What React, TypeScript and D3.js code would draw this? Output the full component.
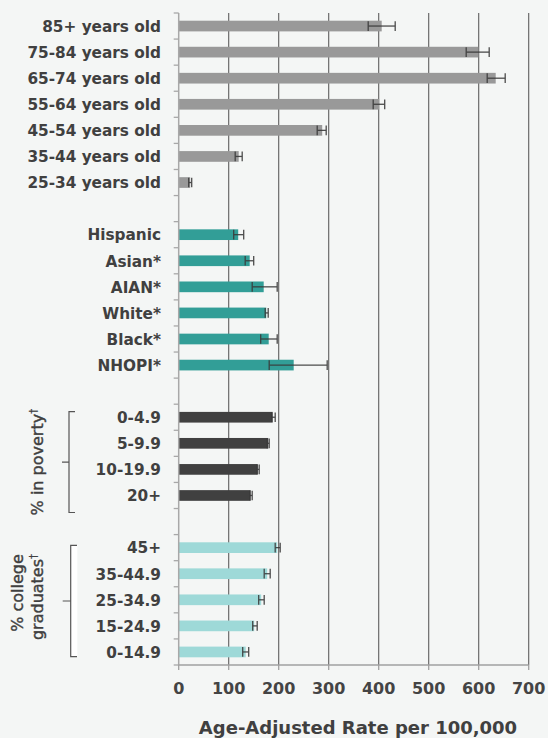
import React from "react";
import * as d3 from "d3";

const ageLabels = ["85+ years old", "75-84 years old", "65-74 years old", "55-64 years old", "45-54 years old", "35-44 years old", "25-34 years old"];
const ageRates = [406, 599, 634, 401, 287, 120, 23];
const ageLower = [379, 575, 617, 389, 277, 113, 20];
const ageUpper = [433, 621, 653, 412, 295, 127, 26];

const raceLabels = ["Hispanic", "Asian*", "AIAN*", "White*", "Black*", "NHOPI*"];
const raceRates = [119, 142, 170, 175, 180, 230];
const raceLower = [110, 133, 147, 173, 164, 181];
const raceUpper = [130, 150, 197, 179, 197, 297];

const povertyLabels = ["0-4.9", "5-9.9", "10-19.9", "20+"];
const povertyRates = [188, 179, 158, 144];
const povertyLower = [186, 177, 157, 142];
const povertyUpper = [193, 181, 161, 147];

const collegeLabels = ["45+", "35-44.9", "25-34.9", "15-24.9", "0-14.9"];
const collegeRates = [197, 177, 165, 151, 134];
const collegeLower = [193, 171, 160, 148, 128];
const collegeUpper = [203, 183, 171, 157, 140];

const xTicks = [0, 100, 200, 300, 400, 500, 600, 700];
const xTitle = "Age-Adjusted Rate per 100,000";
const povertyTitle = "% in poverty";
const collegeTitle1 = "% college";
const collegeTitle2 = "graduates";

const COLORS = { age: "#999999", race: "#329e97", poverty: "#404040", college: "#9ed9d8" };

type Row = { label: string; value: number; lo: number; hi: number; color: string } | null;

function group(labels: string[], vals: number[], lo: number[], hi: number[], color: string): Row[] {
  return labels.map((l, i) => ({ label: l, value: vals[i], lo: lo[i], hi: hi[i], color }));
}

const rows: Row[] = [
  ...group(ageLabels, ageRates, ageLower, ageUpper, COLORS.age),
  null,
  ...group(raceLabels, raceRates, raceLower, raceUpper, COLORS.race),
  null,
  ...group(povertyLabels, povertyRates, povertyLower, povertyUpper, COLORS.poverty),
  null,
  ...group(collegeLabels, collegeRates, collegeLower, collegeUpper, COLORS.college),
];

const W = 548;
const H = 738;
const X0 = 178.7;
const TOP = 13;
const BOTTOM = 665;

export default function App() {
  const x = d3.scaleLinear().domain([0, 700]).range([X0, X0 + 350]);
  const y = d3
    .scaleBand<number>()
    .domain(rows.map((_, i) => i))
    .range([TOP, BOTTOM])
    .paddingInner(0.59)
    .paddingOuter(0.295);
  const step = y.step();
  const bw = y.bandwidth();
  const boundaries = d3.range(rows.length + 1).map((k) => TOP + k * step);
  const font = "'DejaVu Sans', sans-serif";
  const center = (i: number) => (y(i) as number) + bw / 2;

  const povStart = ageLabels.length + 1 + raceLabels.length + 1;
  const colStart = povStart + povertyLabels.length + 1;
  const povTop = TOP + povStart * step + 7.5;
  const povBot = TOP + (povStart + povertyLabels.length) * step + 4;
  const colTop = TOP + colStart * step + 10.7;
  const colBot = TOP + (colStart + collegeLabels.length) * step - 8.3;
  const povMid = (povTop + povBot) / 2;
  const colMid = (colTop + colBot) / 2;

  return (
    <svg width={W} height={H} style={{ position: "absolute", left: 0, top: 0 }} fontFamily={font}>
      <rect x={0} y={0} width={W} height={H} fill="#f4f6f5" />
      {xTicks.slice(1).map((t) => (
        <line key={"g" + t} x1={x(t)} x2={x(t)} y1={TOP} y2={BOTTOM} stroke="#5e5e5e" strokeWidth={1.1} />
      ))}
      {rows.map((r, i) =>
        r ? (
          <rect key={"b" + i} x={x(0)} y={y(i)} width={x(r.value) - x(0)} height={bw} fill={r.color} />
        ) : null
      )}
      {rows.map((r, i) =>
        r ? (
          <g key={"e" + i} stroke="#3a3a3a" strokeWidth={1.3} opacity={0.9}>
            <line x1={x(r.lo)} x2={x(r.hi)} y1={center(i)} y2={center(i)} />
            <line x1={x(r.lo)} x2={x(r.lo)} y1={center(i) - bw / 2 + 0.5} y2={center(i) + bw / 2 - 0.5} />
            <line x1={x(r.hi)} x2={x(r.hi)} y1={center(i) - bw / 2 + 0.5} y2={center(i) + bw / 2 - 0.5} />
          </g>
        ) : null
      )}
      <line x1={X0} x2={X0} y1={TOP} y2={BOTTOM} stroke="#a8a8a8" strokeWidth={1.5} />
      {boundaries.map((b, k) => (
        <line key={"yt" + k} x1={X0 - 5} x2={X0} y1={b} y2={b} stroke="#a8a8a8" strokeWidth={1.3} />
      ))}
      <line x1={X0} x2={x(700)} y1={BOTTOM} y2={BOTTOM} stroke="#a0a0a0" strokeWidth={1.5} />
      {xTicks.map((t) => (
        <g key={"xt" + t}>
          <line x1={x(t)} x2={x(t)} y1={BOTTOM} y2={BOTTOM + 5} stroke="#a0a0a0" strokeWidth={1.3} />
          <text x={x(t)} y={693.5} textAnchor="middle" fontSize={16} fontWeight="bold" fill="#444">
            {t}
          </text>
        </g>
      ))}
      {rows.map((r, i) =>
        r ? (
          <text key={"l" + i} x={161} y={center(i) + 5.8} textAnchor="end" fontSize={15.3} fontWeight="bold" fill="#404040">
            {r.label}
          </text>
        ) : null
      )}
      <text x={358} y={734} textAnchor="middle" fontSize={18} fontWeight="bold" fill="#404040">
        {xTitle}
      </text>
      <path
        d={`M75,${povTop} H69 V${povBot} H75 M69,${povMid} H62`}
        fill="none"
        stroke="#555"
        strokeWidth={1.2}
      />
      <text
        transform={`translate(43,${povMid}) rotate(-90)`}
        textAnchor="middle"
        fontSize={16}
        fill="#404040"
        stroke="#404040"
        strokeWidth={0.4}
      >
        {povertyTitle}
        <tspan fontSize={10} dy={-6} strokeWidth={0.2}>†</tspan>
      </text>
      <rect x={70.7} y={colTop} width={6.6} height={colBot - colTop} fill="#ffffff" />
      <path
        d={`M77,${colTop} H70.7 V${colBot} H77 M70.7,${colMid} H62.7`}
        fill="none"
        stroke="#555"
        strokeWidth={1.2}
      />
      <text
        transform={`translate(22.5,${colMid - 8}) rotate(-90)`}
        textAnchor="middle"
        fontSize={16}
        fill="#404040"
        stroke="#404040"
        strokeWidth={0.4}
      >
        {collegeTitle1}
      </text>
      <text
        transform={`translate(43.3,${colMid - 4}) rotate(-90)`}
        textAnchor="middle"
        fontSize={16}
        fill="#404040"
        stroke="#404040"
        strokeWidth={0.4}
      >
        {collegeTitle2}
        <tspan fontSize={10} dy={-6} strokeWidth={0.2}>†</tspan>
      </text>
    </svg>
  );
}
